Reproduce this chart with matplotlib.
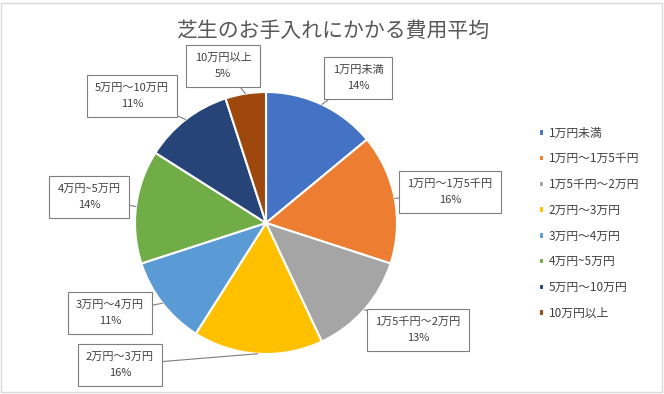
import numpy as np
import matplotlib.pyplot as plt
from matplotlib.patches import Rectangle

plt.rcParams['font.family'] = ['Noto Sans CJK JP', 'DejaVu Sans']

# data
categories = ['1万円未満', '1万円～1万5千円', '1万5千円～2万円', '2万円～3万円',
              '3万円～4万円', '4万円~5万円', '5万円～10万円', '10万円以上']
callout_names = ['1万円未満', '1万円～1万5千円', '1万5千円～2万円', '2万円～3万円',
                 '3万円～4万円', '4万円~5万円', '5万円～10万円', '10万円以上']
shares = [14, 16, 13, 16, 11, 14, 11, 5]
colors = ['#4472C4', '#ED7D31', '#A5A5A5', '#FFC000',
          '#5B9BD5', '#70AD47', '#264478', '#9E480E']

# callout box centres in pixels (x, y from top)
box_pos = [(358, 78), (450, 192), (418, 330), (120, 365),
           (110, 313), (89, 197), (132, 96), (223, 66)]

W, H = 664, 394
fig = plt.figure(figsize=(W / 100, H / 100), dpi=100)
ax = fig.add_axes([0, 0, 1, 1])

cx, cy, r = 266, H - 223, 131
wedges, _ = ax.pie(shares, colors=colors, startangle=90, counterclock=False,
                   center=(cx, cy), radius=r, frame=True,
                   wedgeprops=dict(edgecolor='white', linewidth=1.5))
ax.set_xlim(0, W)
ax.set_ylim(0, H)
ax.set_aspect('equal')
ax.axis('off')

for w, name, val, (bx, by) in zip(wedges, callout_names, shares, box_pos):
    ang = np.deg2rad((w.theta1 + w.theta2) / 2)
    px, py = cx + r * np.cos(ang), cy + r * np.sin(ang)
    ax.annotate(f'{name}\n{val}%', xy=(px, py), xytext=(bx, H - by),
                ha='center', va='center', fontsize=8, color='#404040',
                linespacing=1.7,
                bbox=dict(boxstyle='square,pad=0.75', fc='white', ec='#7F7F7F', lw=0.8),
                arrowprops=dict(arrowstyle='-', color='#7F7F7F', lw=0.8,
                                shrinkA=0, shrinkB=0))

ax.text(334, H - 31, '芝生のお手入れにかかる費用平均', ha='center', va='center',
        fontsize=15, color='#595959')

leg = ax.legend(wedges, categories, loc='upper left',
                bbox_to_anchor=(528 / W, 1 - 116 / H), bbox_transform=fig.transFigure,
                frameon=False, fontsize=8.5, labelcolor='#404040',
                handlelength=0.45, handleheight=0.45, handletextpad=0.4,
                labelspacing=1.08)

fig.patches.append(Rectangle((1 / W, 2 / H), 661 / W, 389 / H, transform=fig.transFigure,
                             fill=False, ec='#D9D9D9', lw=1))

fig.savefig('out.png', dpi=100)
